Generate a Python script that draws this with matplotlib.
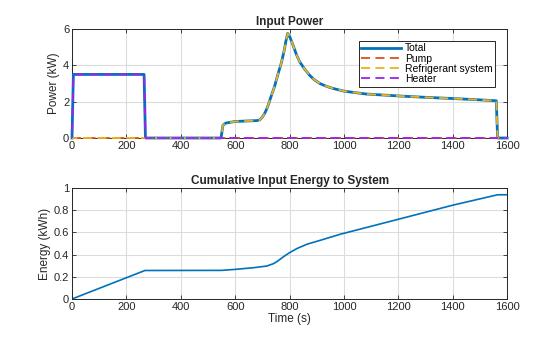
import matplotlib
matplotlib.use("Agg")
import matplotlib.pyplot as plt
from matplotlib.lines import Line2D
import numpy as np

plt.rcParams['font.family'] = ['Liberation Sans', 'DejaVu Sans']

# Power time grid (s) and component powers (kW)
t_power = [0, 5, 265, 270, 548, 555, 565, 600, 650, 680, 690, 700, 710, 720,
           730, 745, 757, 770, 780, 786, 793, 800, 813, 825, 837, 855, 874,
           890, 911, 930, 948, 975, 1000, 1040, 1083, 1206, 1300, 1390,
           1500, 1560, 1565, 1600]
heater = [0, 3.5, 3.5, 0, 0, 0, 0, 0, 0, 0, 0, 0, 0, 0,
          0, 0, 0, 0, 0, 0, 0, 0, 0, 0, 0, 0, 0,
          0, 0, 0, 0, 0, 0, 0, 0, 0, 0, 0,
          0, 0, 0, 0]
refrigerant = [0, 0, 0, 0, 0, 0.71, 0.82, 0.91, 0.94, 0.96, 1.0, 1.15, 1.4, 1.75,
               2.2, 2.85, 3.5, 4.15, 4.8, 5.3, 5.76, 5.6, 5.1, 4.6, 4.2, 3.8, 3.45,
               3.22, 3.0, 2.88, 2.78, 2.67, 2.58, 2.5, 2.42, 2.31, 2.24, 2.18,
               2.1, 2.05, 0, 0]
pump = [0.0] * len(t_power)

# Cumulative energy (kWh)
t_energy = [0, 268, 550, 600, 667, 716, 740, 753, 778, 800, 827, 864, 914, 988,
            1200, 1400, 1565, 1600]
energy = [0, 0.257, 0.258, 0.267, 0.282, 0.297, 0.318, 0.336, 0.382, 0.418,
          0.455, 0.494, 0.53, 0.585, 0.719, 0.846, 0.94, 0.94]

x_ticks = [0, 200, 400, 600, 800, 1000, 1200, 1400, 1600]

total = np.array(pump) + np.array(refrigerant) + np.array(heater)

fig = plt.figure(figsize=(5.6, 3.37), dpi=100)
ax1 = fig.add_axes([0.1286, 0.5905, 0.777, 0.3234])
ax2 = fig.add_axes([0.1286, 0.1128, 0.777, 0.329])

c_total = '#0072BD'
c_pump = '#D95319'
c_ref = '#EDB120'
c_heat = '#A020F0'
dash = (0, (5, 3))

ax1.plot(t_power, total, color=c_total, lw=2.0, clip_on=False, zorder=3)
ax1.plot(t_power, pump, color=c_pump, lw=1.3, ls=(0, (5, 3)), clip_on=False, zorder=4)
ax1.plot(t_power, refrigerant, color=c_ref, lw=1.3, ls=(2, (5, 3)),
         clip_on=False, zorder=5)
ax1.plot(t_power, heater, color=c_heat, lw=1.3, ls=(4, (5, 3)), clip_on=False, zorder=6)

ax2.plot(t_energy, energy, color=c_total, lw=1.2)

for ax in (ax1, ax2):
    ax.set_xlim(0, 1600)
    ax.set_xticks(x_ticks)
    ax.grid(True, color='#DCDCDC', lw=0.8)
    ax.set_axisbelow(True)
    ax.tick_params(direction='in', length=3, width=0.6, labelsize=8, colors='#262626',
                   top=True, right=True, pad=2)
    for s in ax.spines.values():
        s.set_color('#262626')
        s.set_linewidth(0.7)

ax1.set_ylim(0, 6)
ax1.set_yticks([0, 2, 4, 6])
ax1.set_ylabel('Power (kW)', fontsize=8.5, color='#262626', labelpad=2)
ax1.set_title('Input Power', fontsize=8.5, fontweight='bold', color='#262626', pad=3)

ax2.set_ylim(0, 1)
ax2.set_yticks([0, 0.2, 0.4, 0.6, 0.8, 1])
ax2.set_yticklabels(['0', '0.2', '0.4', '0.6', '0.8', '1'])
ax2.set_ylabel('Energy (kWh)', fontsize=8.5, color='#262626', labelpad=2)
ax2.set_xlabel('Time (s)', fontsize=8.5, color='#262626', labelpad=1)
ax2.set_title('Cumulative Input Energy to System', fontsize=8.5, fontweight='bold',
              color='#262626', pad=3)

handles = [
    Line2D([], [], color=c_total, lw=2.0),
    Line2D([], [], color=c_pump, lw=1.3, ls=dash),
    Line2D([], [], color=c_ref, lw=1.3, ls=dash),
    Line2D([], [], color=c_heat, lw=1.3, ls=dash),
]
labels = ['Total', 'Pump', 'Refrigerant system', 'Heater']
leg = ax1.legend(handles, labels, loc='upper right', fontsize=7.5, frameon=True,
                 fancybox=False, edgecolor='#262626', framealpha=1, handlelength=3.8,
                 borderpad=0.25, labelspacing=0.02, handletextpad=0.4,
                 bbox_to_anchor=(0.985, 0.94))
leg.set_zorder(10)
leg.get_frame().set_linewidth(0.7)

fig.savefig('out.png', dpi=100)
